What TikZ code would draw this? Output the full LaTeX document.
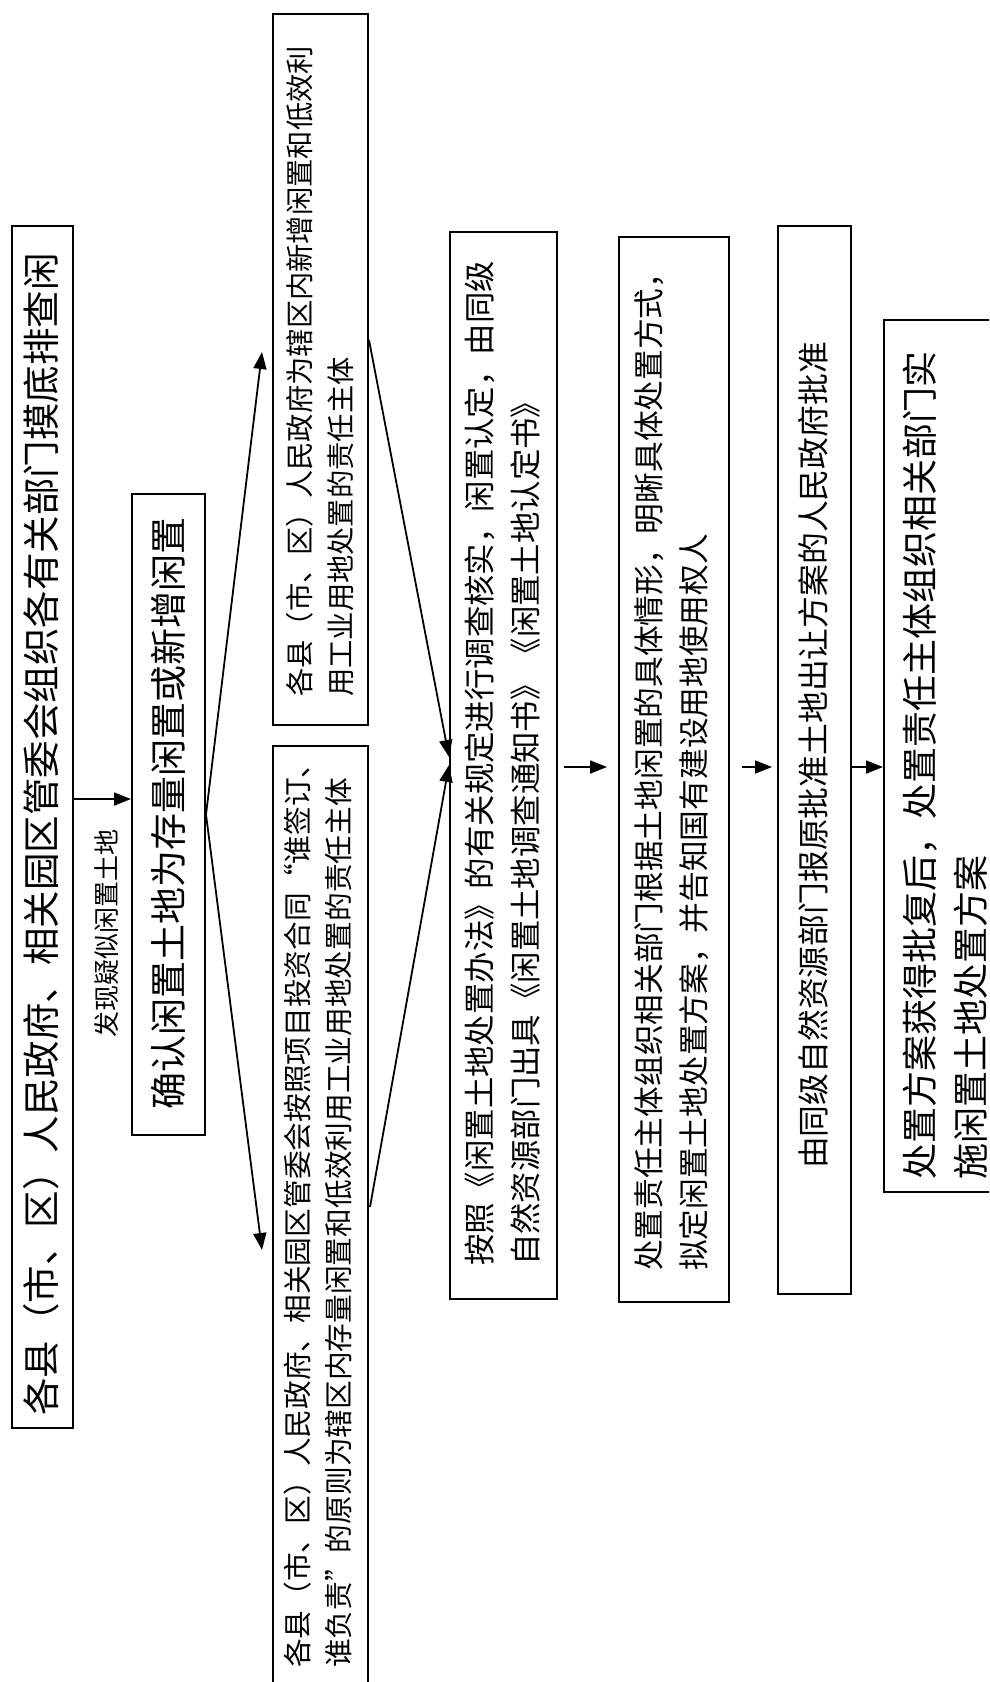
\documentclass[tikz,border=0pt]{standalone}
\usepackage{fontspec}
\newfontfamily\cjk{Noto Sans CJK SC}
\usetikzlibrary{arrows.meta}
\begin{document}
\begin{tikzpicture}[x=1pt,y=-1pt,
  box/.style={draw, line width=2pt, inner sep=0pt, anchor=north west},
  txt/.style={rotate=90, anchor=west, inner sep=0pt, align=left},
  arr/.style={line width=1.8pt, -{Triangle[length=17pt,width=13pt]}}]
\path[use as bounding box] (0,0) rectangle (989,1682);
\clip (0,0) rectangle (989,1682);

\node[box, minimum width=61pt, minimum height=1202pt] (b1) at (11,225) {};
\node[box, minimum width=73pt, minimum height=641pt] (b2) at (131,493) {};
\node[box, minimum width=95pt, minimum height=711pt] (b3) at (272,13) {};
\node[box, minimum width=95pt, minimum height=960pt] (b4) at (272,745) {};
\node[box, minimum width=107pt, minimum height=1067pt] (b5) at (449,231) {};
\node[box, minimum width=110pt, minimum height=1065pt] (b6) at (618,236) {};
\node[box, minimum width=73pt, minimum height=1068pt] (b7) at (777,225) {};
\node[box, minimum width=120pt, minimum height=872pt] (b8) at (883,319) {};

\node[txt, font=\cjk\fontsize{37.5}{40}\selectfont] (t1) at (41,1416) {各县（市、区）人民政府、相关园区管委会组织各有关部门摸底排查闲};
\node[txt, font=\cjk\fontsize{26}{30}\selectfont] (lbl) at (107,1038) {发现疑似闲置土地};
\node[txt, font=\cjk\fontsize{37}{40}\selectfont] (t2) at (168,1110) {确认闲置土地为存量闲置或新增闲置};
\node[txt, font=\cjk\fontsize{28.3}{41}\selectfont] (t3) at (320,697) {各县（市、区）人民政府为辖区内新增闲置和低效利\\用工业用地处置的责任主体};
\node[txt, font=\cjk\fontsize{28.7}{41}\selectfont] (t4) at (318,1668) {各县（市、区）人民政府、相关园区管委会按照项目投资合同“谁签订、\\谁负责”的原则为辖区内存量闲置和低效利用工业用地处置的责任主体};
\node[txt, font=\cjk\fontsize{31.4}{46}\selectfont] (t5) at (502.5,1266) {按照《闲置土地处置办法》的有关规定进行调查核实，闲置认定，由同级\\自然资源部门出具《闲置土地调查通知书》《闲置土地认定书》};
\node[txt, font=\cjk\fontsize{30.7}{45}\selectfont] (t6) at (671.5,1271) {处置责任主体组织相关部门根据土地闲置的具体情形，明晰具体处置方式，\\拟定闲置土地处置方案，并告知国有建设用地使用权人};
\node[txt, font=\cjk\fontsize{31.8}{40}\selectfont] (t7) at (813,1169) {由同级自然资源部门报原批准土地出让方案的人民政府批准};
\node[txt, font=\cjk\fontsize{36}{51}\selectfont] (t8) at (945.5,1180) {处置方案获得批复后，处置责任主体组织相关部门实\\施闲置土地处置方案};

\coordinate (p12) at (0,799);
\draw[arr] (b1.east |- p12) -- (b2.west |- p12);
\coordinate (e3) at (262,352);
\coordinate (e4) at (262,1250);
\draw[arr] (b2.east) -- (e3);
\draw[arr] (b2.east) -- (e4);
\coordinate (s3) at (0,340);
\coordinate (s4) at (370,1207);
\coordinate (e5a) at (0,757);
\coordinate (e5b) at (0,765);
\draw[arr] (b3.east |- s3) -- (b5.west |- e5a);
\draw[arr] (s4) -- (b5.west |- e5b);
\coordinate (m) at (0,767);
\draw[arr, shorten <=6pt, shorten >=11pt] (b5.east |- m) -- (b6.west |- m);
\draw[arr, shorten <=12pt, shorten >=5pt] (b6.east |- m) -- (b7.west |- m);
\draw[arr] (b7.east |- m) -- (b8.west |- m);
\end{tikzpicture}
\end{document}
